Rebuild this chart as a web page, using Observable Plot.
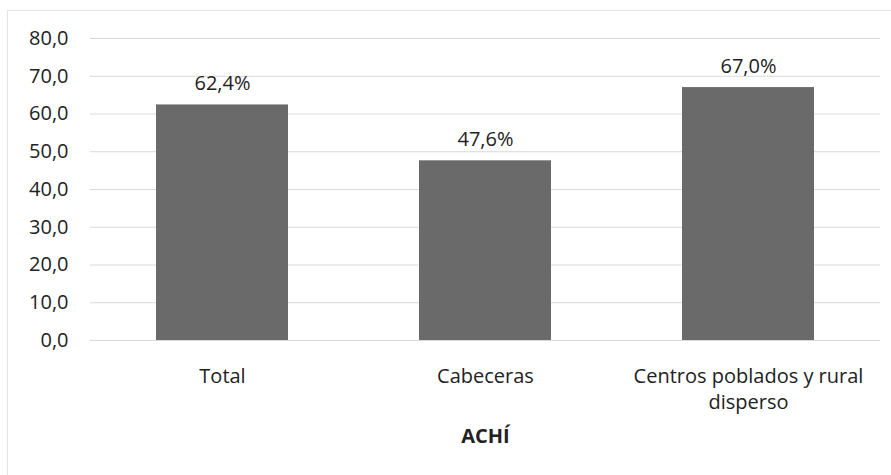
<!DOCTYPE html>
<html>
<head>
<meta charset="utf-8">
<script src="https://cdn.jsdelivr.net/npm/d3@7"></script>
<script src="https://cdn.jsdelivr.net/npm/@observablehq/plot@0.6"></script>
<style>
  html, body { margin: 0; padding: 0; background: #fff; }
  #wrap { position: relative; width: 891px; height: 475px; }
  #frame { position: absolute; left: 7px; top: 10px; right: 0; bottom: 0; border-top: 1px solid #e4e4e4; border-left: 1px solid #e4e4e4; pointer-events: none; }
  svg { font-family: "Open Sans", "Noto Sans", sans-serif; }
</style>
</head>
<body>
<div id="wrap"><div id="frame"></div></div>
<script>
const categories = ["Total", "Cabeceras", "Centros poblados y rural disperso"];
const values = [62.4, 47.6, 67.0];
const yTicks = [0, 10, 20, 30, 40, 50, 60, 70, 80];
const xTickLabels = ["Total", "Cabeceras", "Centros poblados y rural\ndisperso"];
const title = "ACHÍ";

const data = categories.map((c, i) => ({cat: c, value: values[i]}));
const fmtComma = (v, d) => v.toFixed(d).replace(".", ",");

const chart = Plot.plot({
  width: 891,
  height: 475,
  marginTop: 38,
  marginLeft: 90,
  marginRight: 11,
  marginBottom: 135,
  style: {fontSize: "20px", color: "#222", background: "transparent"},
  x: {domain: categories, paddingInner: 0.5, paddingOuter: 0.25, label: null},
  y: {domain: [0, 80], ticks: yTicks, label: null},
  marks: [
    Plot.gridY(yTicks, {stroke: "#d9d9d9", strokeOpacity: 1, strokeWidth: 1}),
    Plot.barY(data, {x: "cat", y: "value", fill: "#6a6a6a"}),
    Plot.text(data, {x: "cat", y: "value", text: d => fmtComma(d.value, 1) + "%", dy: -21, fontSize: 20, fill: "#222"}),
    Plot.axisY(yTicks, {tickSize: 0, tickPadding: 22, tickFormat: d => fmtComma(d, 1), fontSize: 20, fill: "#222", label: null}),
    Plot.axisX({tickSize: 0, tickPadding: 24, tickFormat: (d) => xTickLabels[categories.indexOf(d)], fontSize: 20, lineHeight: 1.3, fill: "#222", label: null}),
    Plot.text([title], {frameAnchor: "bottom", dy: 102, text: d => d, fontSize: 20, fontWeight: "bold", fill: "#222"})
  ]
});
document.getElementById("wrap").appendChild(chart);
</script>
</body>
</html>
